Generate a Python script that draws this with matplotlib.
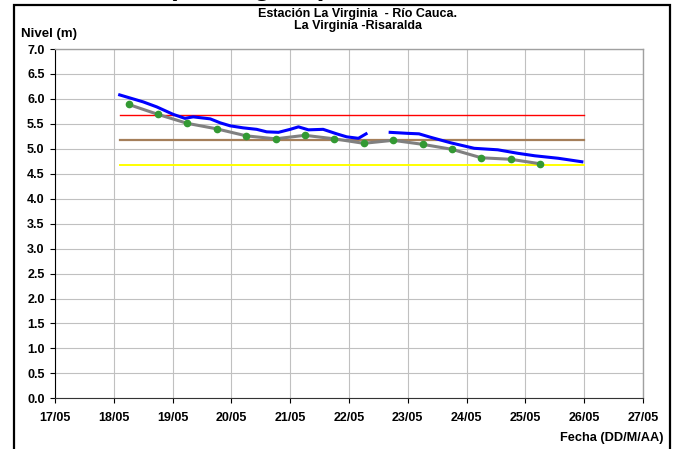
import matplotlib.pyplot as plt
import numpy as np
from matplotlib.patches import Rectangle

plt.rcParams["font.family"] = ["Liberation Sans", "DejaVu Sans"]

# Nivel observado (dia de mayo con fraccion, nivel en m); dos tramos por el hueco de datos
OBS1_DIA = [18.10, 18.50, 18.73, 19.01, 19.21, 19.35, 19.64, 19.81, 19.98, 20.20, 20.43,
            20.60, 20.80, 21.00, 21.14, 21.31, 21.56, 21.79, 21.96, 22.16, 22.29]
OBS1_NIVEL = [6.08, 5.94, 5.84, 5.69, 5.61, 5.64, 5.60, 5.52, 5.46, 5.42, 5.39,
              5.34, 5.33, 5.39, 5.44, 5.38, 5.39, 5.30, 5.24, 5.21, 5.30]
OBS2_DIA = [22.70, 22.99, 23.19, 23.39, 23.73, 24.13, 24.53, 24.87, 25.16, 25.56, 25.96]
OBS2_NIVEL = [5.33, 5.31, 5.30, 5.23, 5.12, 5.01, 4.98, 4.91, 4.86, 4.81, 4.74]

# Nivel medio cada 12 horas
MED_DIA = [18.25, 18.75, 19.25, 19.75, 20.25, 20.75, 21.25, 21.75, 22.25, 22.75,
           23.25, 23.75, 24.25, 24.75, 25.25]
MED_NIVEL = [5.89, 5.69, 5.51, 5.40, 5.26, 5.20, 5.27, 5.20, 5.11, 5.17,
             5.09, 4.99, 4.82, 4.79, 4.70]

# Umbrales
UMBRAL_DIA = [18.10, 26.00]
UMBRAL_ROJO = 5.68
UMBRAL_CAFE = 5.18
UMBRAL_AMARILLO = 4.68

X_TICKS = list(range(17, 28))
X_LABELS = [f"{d:02d}/05" for d in X_TICKS]
Y_TICKS = np.arange(0, 7.01, 0.5)

W, H = 674, 449

fig = plt.figure(figsize=(W / 100, H / 100), dpi=100)
fig.patch.set_facecolor("white")
ax = fig.add_axes([55 / W, 1 - 398.3 / H, 588 / W, 349.3 / H])

ax.plot(UMBRAL_DIA, [UMBRAL_ROJO] * 2, color="#ff0000", lw=1.0, zorder=2)
ax.plot(UMBRAL_DIA, [UMBRAL_CAFE] * 2, color="#a57f5a", lw=1.6, zorder=2)
ax.plot(UMBRAL_DIA, [UMBRAL_AMARILLO] * 2, color="#ffff00", lw=1.4, zorder=2)

ax.plot(MED_DIA, MED_NIVEL, color="#808080", lw=2.2, zorder=3)
ax.plot(MED_DIA, MED_NIVEL, ls="none", marker="o", ms=4.5, color="#339933", zorder=4)
ax.plot(OBS1_DIA, OBS1_NIVEL, color="#0000ff", lw=2.2, zorder=5)
ax.plot(OBS2_DIA, OBS2_NIVEL, color="#0000ff", lw=2.2, zorder=5)

ax.set_xlim(17, 27)
ax.set_ylim(0, 7)
ax.set_xticks(X_TICKS)
ax.set_xticklabels(X_LABELS)
ax.set_yticks(Y_TICKS)
ax.set_yticklabels([f"{v:.1f}" for v in Y_TICKS])
ax.grid(True, color="#c0c0c0", lw=0.8)
ax.set_axisbelow(True)
ax.tick_params(direction="out", length=3.5, width=0.8, labelsize=9)
ax.tick_params(axis="x", pad=6.5)
ax.tick_params(axis="y", pad=4)
for lab in ax.get_xticklabels() + ax.get_yticklabels():
    lab.set_fontweight("bold")
ax.spines["left"].set_color("black")
ax.spines["bottom"].set_color("#333333")
for s in ["top", "right"]:
    ax.spines[s].set_color("#a0a0a0")
    ax.spines[s].set_linewidth(1.0)

cx = 358 / W
fig.text(cx, 1 - 13.5 / H, "Estación La Virginia  - Río Cauca.",
         ha="center", va="center", fontsize=9, fontweight="bold")
fig.text(cx, 1 - 26 / H, "La Virginia -Risaralda",
         ha="center", va="center", fontsize=9, fontweight="bold")
fig.text(21 / W, 1 - 34.5 / H, "Nivel (m)", ha="left", va="center",
         fontsize=9.5, fontweight="bold")
fig.text(663 / W, 1 - 438 / H, "Fecha (DD/M/AA)", ha="right", va="center",
         fontsize=9.2, fontweight="bold")
fig.text(168 / W, 1 + 5 / H, "(La Virginia)", ha="left", va="baseline",
         fontsize=20, fontweight="bold")

fig.patches.append(Rectangle((14 / W, -0.05), 655.5 / W, 1.05 - 4.5 / H,
                             transform=fig.transFigure, fill=False,
                             edgecolor="black", lw=1.6))

fig.savefig("out.png", dpi=100)
